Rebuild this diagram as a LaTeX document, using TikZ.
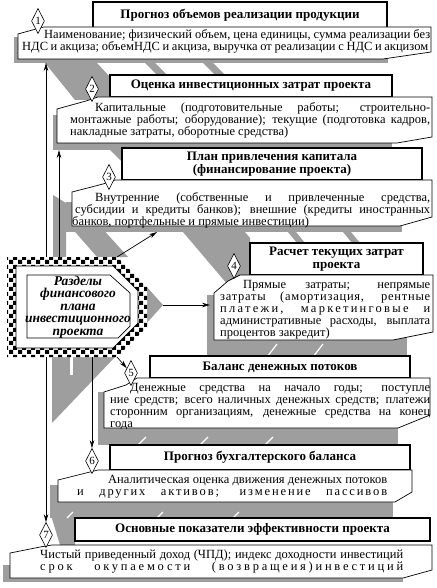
\documentclass[tikz,border=0pt]{standalone}
\usepackage{fontspec}
\setmainfont{Liberation Serif}
\usetikzlibrary{arrows.meta,shapes.geometric,patterns}
\definecolor{shd}{gray}{0.62}
\pgfdeclarepatternformonly{bigcheck}{\pgfpointorigin}{\pgfqpoint{9pt}{9pt}}{\pgfqpoint{9pt}{9pt}}{%
  \pgfpathrectangle{\pgfpointorigin}{\pgfqpoint{4.5pt}{4.5pt}}%
  \pgfpathrectangle{\pgfqpoint{4.5pt}{4.5pt}}{\pgfqpoint{4.5pt}{4.5pt}}%
  \pgfusepath{fill}}
\newcommand\jline[3]{\hbox{\hskip#1pt\hbox to #2pt{#3}}}% justified line
\newcommand\fline[2]{\hbox{\hskip#1pt #2}}% last line of a paragraph

\begin{document}
\begin{tikzpicture}[x=1pt, y=-1pt,
    G/.style = {fill=shd},% grey shadows and bands
    H/.style = {draw, fill=white, line width=1.1pt, inner sep=0pt, align=center,
                font=\bfseries\fontsize{13}{13.5}\selectfont},% headings
    P/.style = {draw, fill=white, line width=0.7pt},% text frames
    B/.style = {anchor=north west, inner sep=0pt, align=left,
                font=\fontsize{12.5}{12}\selectfont},
    D/.style = {diamond, draw, fill=white, inner sep=0pt, line width=0.6pt,
                minimum width=13pt, minimum height=25pt, font=\fontsize{11}{11}\selectfont},
    W/.style = {white, line width=1.2pt},
    A/.style = {-{Stealth[length=8pt,width=4.5pt]}, line width=0.7pt},
                    ]
\fill[white] (0,0) rectangle (436,588);
\useasboundingbox (0,0) rectangle (436,588);
% shadows
\fill[G] (14,37) rectangle (388,63);
\fill[G] (53,115) rectangle (392,150);
\fill[G] (66,202) rectangle (402,232);
\fill[G] (207,295) rectangle (407,344);
\fill[G] (98,392) rectangle (398,437);
\fill[G] (50,485) rectangle (393,512);
\fill[G] (3,565) rectangle (403,582);
% bands between the blocks
\fill[G] (45,63) -- (97,63) -- (110,77) -- (110,100) -- (75,100) -- cycle;
\fill[G] (145,63) -- (155,63) -- (167,75) -- (157,75) -- cycle;
\fill[G] (203,63) -- (213,63) -- (225,75) -- (215,75) -- cycle;
\fill[G] (110,150) -- (122,150) -- (122,162) -- cycle;
\fill[G] (53,195) -- (66,203) -- (66,257) -- (53,257) -- cycle;
\fill[G] (70,226) -- (100,226) -- (128,257) -- (97,257) -- cycle;
\fill[G] (183,232) -- (245,232) -- (250,238) -- (250,280) -- (228,285) -- cycle;
\fill[G] (288,232) -- (296,232) -- (305,243) -- (297,243) -- cycle;
\fill[G] (343,232) -- (351,232) -- (360,243) -- (352,243) -- cycle;
\fill[G] (145,285) -- (163,305) -- (145,325) -- cycle;
\fill[G] (207,344) rectangle (407,357);
\fill[G] (52,357) -- (115,357) -- (52,423) -- cycle;
\fill[G] (98,437) rectangle (398,445);
\fill[G] (50,512) rectangle (393,518);
\fill[G] (50,512) -- (75,512) -- (75,545) -- (60,545) -- cycle;
\foreach \x in {267,313} \draw[W] (\x,357) -- (\x+10,344);
\foreach \x in {138,200,265} \draw[W] (\x,445) -- (\x+8,437);
\foreach \x in {67,157,233} \draw[W] (\x,518) -- (\x+6,512);
\fill[white] (70,357) rectangle (73,375);
% central block
\fill[white] (7,257) -- (117,257) -- (147,287) -- (147,327) -- (117,357) -- (7,357) -- cycle;
\fill[pattern=bigcheck] (7,257) -- (117,257) -- (147,287) -- (147,327) -- (117,357) -- (7,357) -- cycle;
\draw[fill=white, line width=0.7pt] (16,266) -- (113,266) -- (138,291) -- (138,323) -- (113,348) -- (16,348) -- cycle;
\draw[line width=0.7pt] (27,275) -- (110,275) -- (130,293) -- (130,326) -- (118,338) -- (27,338) -- cycle;
\node[inner sep=0pt, align=center, font=\bfseries\itshape\fontsize{13.5}{12.6}\selectfont] (R) at (78,307)
    {Разделы\\финансового\\плана\\инвестиционного\\проекта};
% headings
\node[H, minimum width=294pt, minimum height=26pt] (h1) at (240,15) {Прогноз объемов реализации продукции};
\node[H, minimum width=282pt, minimum height=22pt] (h2) at (251,86) {Оценка инвестиционных затрат проекта};
\node[H, minimum width=300pt, minimum height=32pt] (h3) at (272,164) {План привлечения капитала\\(финансирование проекта)};
\node[H, minimum width=173pt, minimum height=32pt] (h4) at (336.5,259) {Расчет текущих затрат\\проекта};
\node[H, minimum width=260pt, minimum height=22pt] (h5) at (280,367) {Баланс денежных потоков};
\node[H, minimum width=300pt, minimum height=25pt] (h6) at (260,457.5) {Прогноз бухгалтерского баланса};
\node[H, minimum width=355pt, minimum height=23pt] (h7) at (252.5,529.5) {Основные показатели эффективности проекта};
% text frames
\draw[P] (18,34) -- (36,29) -- (44,27) -- (431,27) -- (431,52) -- (383,59) -- (18,59) -- cycle;
\draw[P] (57,109) -- (86,101) -- (98,97) -- (432,97) -- (432,137) -- (397,143) -- (57,143) -- cycle;
\draw[P] (72,192) -- (103,184) -- (115,180) -- (432,180) -- (432,217) -- (400,226) -- (72,226) -- cycle;
\draw[P] (214,293) -- (228,281) -- (240,275) -- (433,275) -- (433,332) -- (393,340) -- (214,340) -- cycle;
\draw[P] (104,392) -- (126,385) -- (137,378) -- (430,378) -- (430,415) -- (398,428) -- (104,428) -- cycle;
\draw[P] (58,480) -- (86,473) -- (98,470) -- (412,470) -- (412,492) -- (395,502) -- (58,502) -- cycle;
\draw[P] (10,553) -- (40,547) -- (52,545) -- (432,545) -- (432,570) -- (403,578) -- (10,578) -- cycle;
% numbers
\node[D] (d1) at (38,21) {1};
\node[D] (d2) at (92,89) {2};
\node[D] (d3) at (109,177) {3};
\node[D] (d4) at (234,266) {4};
\node[D] (d5) at (131,373) {5};
\node[D] (d6) at (92,461) {6};
\node[D] (d7) at (46,535) {7};
% texts
\node[B] (t1) at (22,29) {\jline{22}{386}{Наименование; физический объем, цена единицы, сумма реализации без}\\
    \jline{0}{406}{НДС и акциза; объемНДС и акциза, выручка от реализации с НДС и акцизом}};
\node[B] (t2) at (70,102) {\jline{25}{335}{Капитальные (подготовительные работы; строительно-}\\
    \jline{0}{360}{монтажные работы; оборудование); текущие (подготовка кадров,}\\
    \fline{0}{накладные затраты, оборотные средства)}};
\node[B] (t3) at (75,192) {\jline{20}{335}{Внутренние (собственные и привлеченные средства,}\\
    \jline{0}{355}{субсидии и кредиты банков); внешние (кредиты иностранных}\\
    \fline{-3}{банков, портфельные и прямые инвестиции)}};
\node[B] (t4) at (220,280) {\jline{23}{187}{Прямые затраты; непрямые}\\
    \jline{0}{210}{\addfontfeature{LetterSpace=6}затраты (амортизация, рентные}\\
    \jline{0}{210}{\addfontfeature{LetterSpace=18}платежи, маркетинговые и}\\
    \jline{0}{210}{административные расходы, выплата}\\
    \fline{0}{процентов закредит)}};
\node[B] (t5) at (110,383) {\jline{20}{300}{Денежные средства на начало годы; поступле}\\
    \jline{0}{320}{ние средств; всего наличных денежных средств; платежи}\\
    \jline{0}{320}{сторонним организациям, денежные средства на конец}\\
    \fline{0}{года}};
\node[B] (t6) at (77,475) {\jline{31}{279}{Аналитическая оценка движения денежных потоков}\\
    \jline{0}{310}{\addfontfeature{LetterSpace=15}и других активов; изменение пассивов}};
\node[B] (t7) at (40,550) {\jline{0}{363}{Чистый приведенный доход (ЧПД); индекс доходности инвестиций}\\
    \jline{0}{363}{\addfontfeature{LetterSpace=22}срок окупаемости (возвращеия)инвестиций}};
% connectors
\path (46,257) coordinate (o1) (59,257) coordinate (o2) (117,257) coordinate (o3)
      (163,305) coordinate (o4) (117,357) coordinate (o5) (92,357) coordinate (o6)
      (46,357) coordinate (o7);
\path (46,63) coordinate (e1) (59,150) coordinate (e2) (157,232) coordinate (e3)
      (210,305) coordinate (e4);
\draw[A] (o1) -- (e1);
\draw[A] (o2) -- (e2);
\draw[A] (o3) -- (e3);
\draw[A] (o4) -- (e4);
\draw[A] (o5) -- (d5);
\draw[A] (o6) -- (d6);
\draw[A] (o7) -- (d7);
\end{tikzpicture}
\end{document}
